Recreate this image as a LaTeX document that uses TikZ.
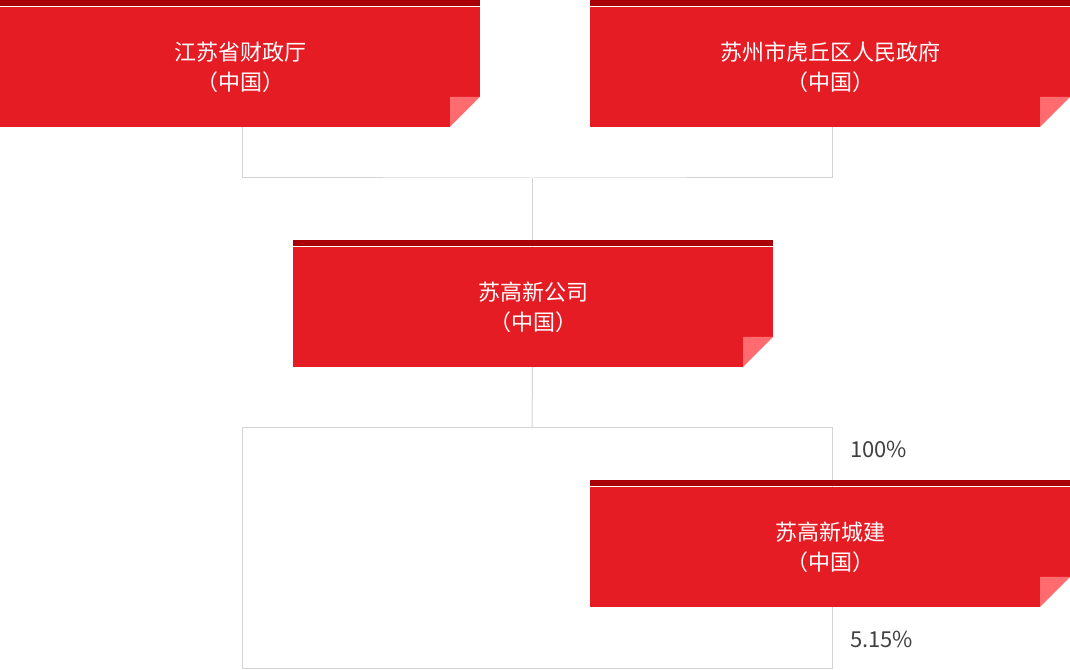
\documentclass[tikz,border=0pt]{standalone}
\usepackage{fontspec}
\setmainfont{Noto Sans CJK SC}
\usepackage{tikz}
\usetikzlibrary{positioning, backgrounds}

\definecolor{boxred}{HTML}{E61C24}
\definecolor{bandred}{HTML}{A80006}
\definecolor{foldpink}{HTML}{FF6B6E}
\definecolor{linegray}{HTML}{D4D4D4}
\definecolor{pctgray}{HTML}{404040}

\begin{document}
\begin{tikzpicture}[
    x=1pt, y=1pt,
    orgbox/.style={rectangle, fill=boxred, text=white, minimum width=480pt, minimum height=120pt, inner sep=0pt, align=center, font=\fontsize{22}{30}\selectfont,
        path picture={
            \fill[foldpink] ([xshift=-30pt]path picture bounding box.south east) -- ++(0,30pt) -- ++(30pt,0) -- cycle;
            \fill[white] (path picture bounding box.south east) -- ++(-30pt,0) -- ++(30pt,30pt) -- cycle;}},
    band/.style={fill=bandred},
    link/.style={draw=linegray, line width=1pt},
    pct/.style={text=pctgray, anchor=west, inner sep=0pt, font=\fontsize{22}{26}\selectfont}
]
\useasboundingbox (0,0) rectangle (1070,669);

% Shareholders (top row)
\node[orgbox] (czt) at (240, 602) {江苏省财政厅\\（中国）};
\node[orgbox] (hqzf) at (830, 602) {苏州市虎丘区人民政府\\（中国）};

% Middle company
\node[orgbox] (sgx) at (533, 362) {苏高新公司\\（中国）};

% Subsidiary
\node[orgbox] (sgxcj) at (830, 122) {苏高新城建\\（中国）};

% Top bands
\foreach \n in {czt, hqzf, sgx, sgxcj}
    \fill[band] ([yshift=1pt]\n.north west) rectangle ([yshift=7pt]\n.north east);

% Percentages
\node[pct] (pcta) at (850, 220) {100\%};
\node[pct] (pctb) at (850, 30) {5.15\%};

% Connectors behind the boxes
\begin{scope}[on background layer]
\coordinate (topjoin) at (532, 491);
\coordinate (lowtop) at (532, 241);
\draw[link] ([xshift=2pt]czt.center) |- (topjoin) -| ([xshift=2pt]hqzf.center);
\draw[link] (topjoin) -- (topjoin |- sgx.center);
\draw[link] (sgx.center) -- (lowtop);
\draw[link] (lowtop) -- (242, 241) |- (832, 1) -- (832, 241) -- (lowtop);
\end{scope}

\end{tikzpicture}
\end{document}
